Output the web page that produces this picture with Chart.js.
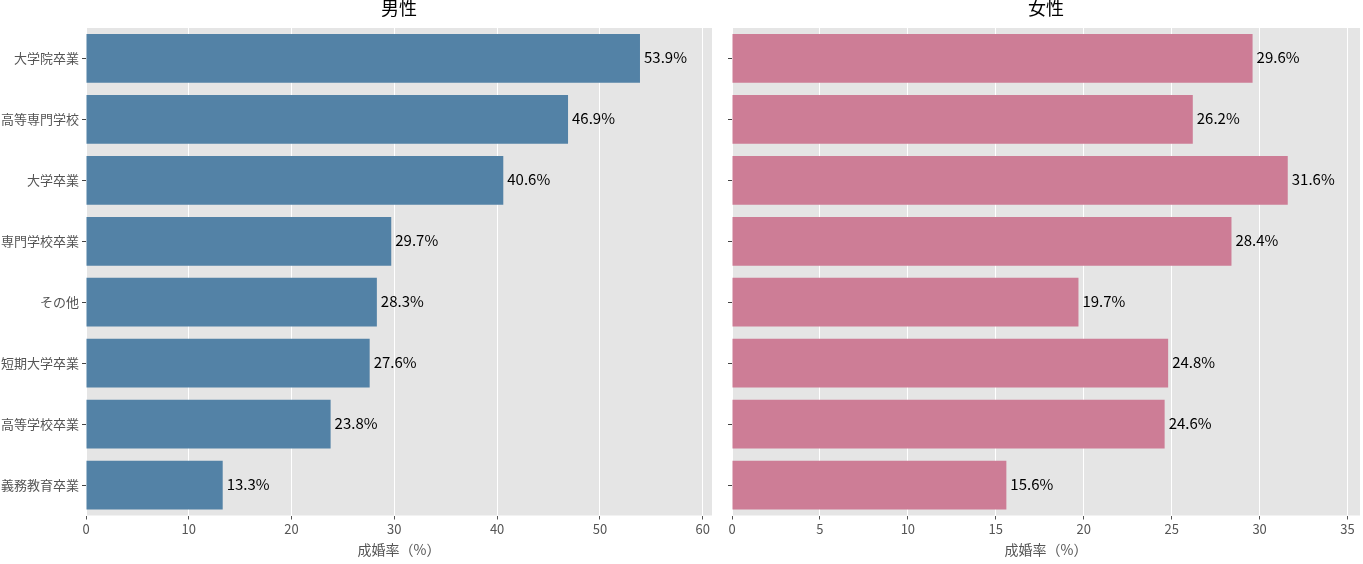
<!DOCTYPE html>
<html>
<head>
<meta charset="utf-8">
<script src="https://cdn.jsdelivr.net/npm/chart.js@4/dist/chart.umd.min.js"></script>
<style>
  html, body { margin: 0; padding: 0; background: #fff; }
  #wrap { position: relative; width: 1363px; height: 564px; }
  .box { position: absolute; top: 0; height: 564px; }
</style>
</head>
<body>
<div id="wrap">
  <div class="box" style="left:0;width:720px"><canvas id="male"></canvas></div>
  <div class="box" style="left:716px;width:647px"><canvas id="female"></canvas></div>
</div>
<script>
// categories (top to bottom)
const categories = ['大学院卒業', '高等専門学校', '大学卒業', '専門学校卒業', 'その他', '短期大学卒業', '高等学校卒業', '義務教育卒業'];
// marriage rate (%)
const maleRates = [53.9, 46.9, 40.6, 29.7, 28.3, 27.6, 23.8, 13.3];
const femaleRates = [29.6, 26.2, 31.6, 28.4, 19.7, 24.8, 24.6, 15.6];
const titles = ['男性', '女性'];
const xLabel = '成婚率（%）';

const FONT = '"Noto Sans CJK JP", "Noto Sans", sans-serif';

// grey panel like the ggplot style
const panelBg = {
  id: 'panelBg',
  beforeDraw(chart) {
    const { ctx, chartArea: a } = chart;
    ctx.save();
    ctx.fillStyle = '#e5e5e5';
    ctx.fillRect(a.left, a.top, a.right - a.left, a.bottom - a.top);
    ctx.restore();
  }
};

// title centred over the plot and value labels at bar ends
const extras = {
  id: 'extras',
  afterDatasetsDraw(chart, args, opts) {
    const { ctx, chartArea: a } = chart;
    ctx.save();
    ctx.fillStyle = '#000';
    ctx.font = '18px ' + FONT;
    ctx.textAlign = 'center';
    ctx.textBaseline = 'middle';
    ctx.fillText(opts.title, (a.left + a.right) / 2, 8);

    ctx.font = '15px ' + FONT;
    ctx.textAlign = 'left';
    const meta = chart.getDatasetMeta(0);
    meta.data.forEach((bar, i) => {
      const v = chart.data.datasets[0].data[i];
      ctx.fillText(v.toFixed(1) + '%', bar.x + 4, bar.y - 1);
    });
    ctx.restore();
  }
};

function makeChart(id, values, color, title, yWidth, showLabels, padRight, step) {
  new Chart(document.getElementById(id), {
    type: 'bar',
    data: {
      labels: categories,
      datasets: [{
        data: values,
        backgroundColor: color,
        borderWidth: 0,
        barPercentage: 0.8,
        categoryPercentage: 1.0
      }]
    },
    options: {
      indexAxis: 'y',
      responsive: true,
      maintainAspectRatio: false,
      animation: false,
      layout: { padding: { top: 28, right: padRight, bottom: 0, left: 0 } },
      plugins: {
        legend: { display: false },
        tooltip: { enabled: false },
        extras: { title: title }
      },
      scales: {
        x: {
          min: 0,
          max: Math.max(...values) * 1.13,
          border: { display: false },
          grid: { color: '#ffffff', lineWidth: 1, tickColor: '#555', tickLength: 4 },
          ticks: {
            stepSize: step,
            includeBounds: false,
            color: '#555',
            padding: 2,
            font: { family: FONT, size: 13 }
          },
          title: {
            display: true,
            text: xLabel,
            color: '#555',
            padding: { top: 0, bottom: 6 },
            font: { family: FONT, size: 14 }
          },
          afterFit(scale) { scale.height = 48.5; }
        },
        y: {
          border: { display: false },
          grid: { offset: false, drawOnChartArea: false, drawTicks: true, tickLength: 4, tickColor: '#444' },
          ticks: {
            display: true,
            color: showLabels ? '#555' : 'rgba(0,0,0,0)',
            padding: 3,
            font: { family: FONT, size: 13 }
          },
          afterFit(scale) { scale.width = yWidth; }
        }
      }
    },
    plugins: [panelBg, extras]
  });
}

makeChart('male', maleRates, 'rgb(83,130,166)', titles[0], 86, true, 8, 10);
makeChart('female', femaleRates, 'rgb(205,125,150)', titles[1], 16, false, 3, 5);
</script>
</body>
</html>
